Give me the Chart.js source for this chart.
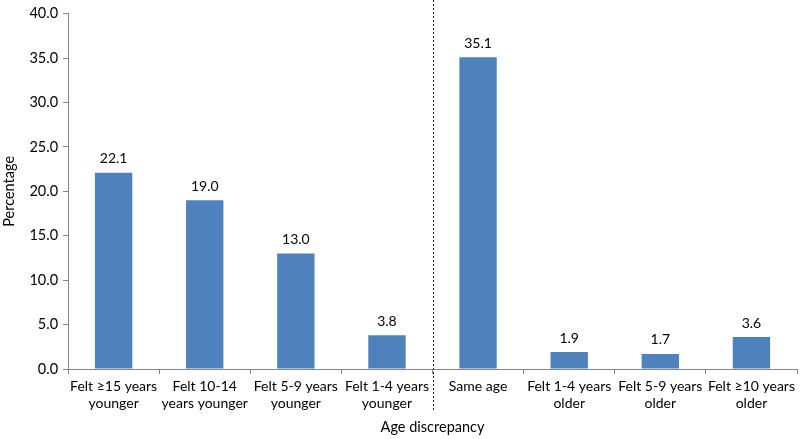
<!DOCTYPE html>
<html>
<head>
<meta charset="utf-8">
<script src="https://cdn.jsdelivr.net/npm/chart.js@4.4.0/dist/chart.umd.min.js"></script>
<style>
  html, body { margin: 0; padding: 0; background: #fff; }
</style>
</head>
<body>
<canvas id="grafico" width="800" height="439"></canvas>
<script>
// categorias (eixo x) e valores em %
var categorias = [
  ['Felt \u226515 years', 'younger'],
  ['Felt 10-14', 'years younger'],
  ['Felt 5-9 years', 'younger'],
  ['Felt 1-4 years', 'younger'],
  'Same age',
  ['Felt 1-4 years', 'older'],
  ['Felt 5-9 years', 'older'],
  ['Felt \u226510 years', 'older']
];
var percentuais = [22.1, 19.0, 13.0, 3.8, 35.1, 1.9, 1.7, 3.6];
var divisao = 3.5; // linha tracejada entre "younger" e "Same age"

var fonte = "Lato, 'Open Sans', sans-serif";
var corEixo = '#868686';

// rotulos acima das barras
var rotulos = {
  id: 'rotulos',
  afterDatasetsDraw: function(chart) {
    var ctx = chart.ctx;
    var meta = chart.getDatasetMeta(0);
    ctx.save();
    ctx.font = '14px ' + fonte;
    ctx.fillStyle = '#000';
    ctx.textAlign = 'center';
    ctx.textBaseline = 'bottom';
    meta.data.forEach(function(bar, i) {
      ctx.fillText(percentuais[i].toFixed(1), bar.x, bar.y - 7);
    });
    ctx.restore();
  }
};

// linha vertical tracejada
var linhaDivisao = {
  id: 'linhaDivisao',
  afterDraw: function(chart) {
    var x = chart.scales.x;
    var px = Math.round((x.getPixelForValue(Math.floor(divisao)) + x.getPixelForValue(Math.ceil(divisao))) / 2) + 0.5;
    var ctx = chart.ctx;
    ctx.save();
    ctx.strokeStyle = '#222';
    ctx.lineWidth = 1;
    ctx.setLineDash([2, 2]);
    ctx.beginPath();
    ctx.moveTo(px, 0);
    ctx.lineTo(px, 410);
    ctx.stroke();
    ctx.restore();
  }
};

var ctx = document.getElementById('grafico').getContext('2d');
new Chart(ctx, {
  type: 'bar',
  data: {
    labels: categorias,
    datasets: [{
      data: percentuais,
      backgroundColor: '#4F81BD',
      categoryPercentage: 1.0,
      barPercentage: 0.41
    }]
  },
  options: {
    responsive: false,
    animation: false,
    layout: { padding: { top: 1, right: 3, left: 1, bottom: 0 } },
    plugins: {
      legend: { display: false },
      tooltip: { enabled: false }
    },
    scales: {
      y: {
        min: 0,
        max: 40,
        ticks: {
          stepSize: 5,
          color: '#000',
          font: { family: fonte, size: 14.5 },
          padding: 5,
          callback: function(v) { return v.toFixed(1); }
        },
        grid: { display: true, drawOnChartArea: false, drawTicks: true, tickLength: 5, color: corEixo },
        border: { display: true, color: corEixo },
        title: {
          display: true,
          text: 'Percentage',
          color: '#000',
          font: { family: fonte, size: 14.5 },
          padding: { top: 0, bottom: 6 }
        }
      },
      x: {
        afterFit: function(escala) { escala.height = 70; },
        ticks: {
          color: '#000',
          font: { family: fonte, size: 14, lineHeight: 1.2 },
          maxRotation: 0,
          autoSkip: false,
          padding: 4
        },
        grid: { display: true, offset: true, drawOnChartArea: false, drawTicks: true, tickLength: 5, color: corEixo },
        border: { display: true, color: corEixo },
        title: {
          display: true,
          text: 'Age discrepancy',
          color: '#000',
          font: { family: fonte, size: 14.5 },
          padding: { top: 0, bottom: 3 }
        }
      }
    }
  },
  plugins: [rotulos, linhaDivisao]
});
</script>
</body>
</html>
